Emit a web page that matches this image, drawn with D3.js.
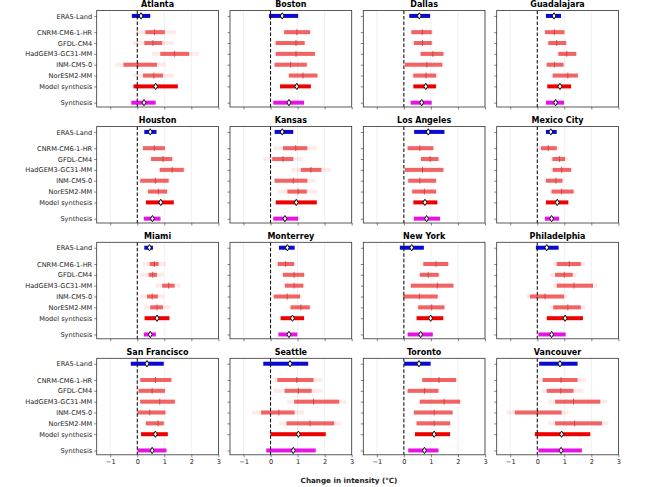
<!DOCTYPE html>
<html>
<head>
<meta charset="utf-8">
<script src="https://cdn.jsdelivr.net/npm/d3@7"></script>
<style>
  body { margin: 0; background: #fff; }
  text { font-family: "DejaVu Sans", sans-serif; }
</style>
</head>
<body>
<div id="chart"></div>
<script>
// cities, in panel order
var cities = ["Atlanta", "Boston", "Dallas", "Guadalajara",
  "Houston", "Kansas", "Los Angeles", "Mexico City",
  "Miami", "Monterrey", "New York", "Philadelphia",
  "San Francisco", "Seattle", "Toronto", "Vancouver"];

var rowLabels = ["ERA5-Land", "CNRM-CM6-1-HR", "GFDL-CM4", "HadGEM3-GC31-MM",
  "INM-CM5-0", "NorESM2-MM", "Model synthesis", "Synthesis"];
var rowPos = [8, 6.5, 5.5, 4.5, 3.5, 2.5, 1.5, 0];

var xTicks = [-1, 0, 1, 2, 3];

// observations [lo, best, hi]
var era5 = [[-0.20,0.14,0.48],[-0.06,0.43,1.02],[0.20,0.57,0.97],[0.32,0.62,0.88],
  [0.26,0.48,0.71],[0.15,0.43,0.84],[0.38,0.90,1.50],[0.32,0.50,0.72],
  [0.26,0.45,0.58],[0.31,0.62,0.89],[-0.15,0.29,0.74],[-0.05,0.35,0.79],
  [-0.24,0.36,0.98],[-0.27,0.72,1.39],[0.01,0.56,0.99],[0.07,0.84,1.49]];

// models [faintLo, lo, best, hi, faintHi]
var cnrm = [[-0.07,0.30,0.64,1.02,1.44],[0.45,0.50,0.97,1.46,1.50],[0.22,0.28,0.68,1.03,1.08],[0.25,0.29,0.63,1.00,1.05],
  [0.15,0.21,0.63,1.02,1.08],[0.12,0.46,0.93,1.36,1.71],[0.10,0.14,0.59,1.09,1.13],[-0.02,0.14,0.41,0.72,0.80],
  [0.21,0.46,0.63,0.79,1.08],[0.22,0.27,0.56,0.87,0.92],[0.68,0.72,1.19,1.64,1.68],[0.57,0.72,1.18,1.61,1.77],
  [0.08,0.11,0.67,1.26,1.30],[0.10,0.25,0.97,1.59,1.92],[0.64,0.68,1.30,1.93,1.97],[0.04,0.20,0.88,1.49,1.81]];
var gfdl = [[-0.16,0.26,0.58,0.92,1.35],[0.14,0.19,0.94,1.26,1.30],[0.32,0.37,0.69,1.03,1.08],[0.37,0.41,0.72,1.07,1.11],
  [0.45,0.51,0.95,1.29,1.35],[-0.27,0.06,0.46,0.84,1.18],[0.59,0.63,0.97,1.28,1.32],[0.47,0.56,0.82,1.03,1.15],
  [0.11,0.42,0.57,0.73,0.98],[0.41,0.46,0.87,1.24,1.28],[0.55,0.59,0.90,1.29,1.33],[0.47,0.66,1.00,1.31,1.46],
  [0.02,0.05,0.55,1.02,1.06],[0.12,0.52,1.03,1.52,1.92],[0.10,0.14,0.76,1.28,1.32],[0.16,0.35,0.87,1.34,1.71]];
var hadgem = [[0.55,0.85,1.38,1.92,2.28],[0.14,0.19,0.94,1.64,1.69],[0.56,0.62,1.07,1.46,1.52],[0.73,0.78,1.09,1.44,1.49],
  [0.77,0.83,1.29,1.72,1.78],[0.77,1.12,1.49,1.88,2.23],[0.00,0.04,0.69,1.46,1.50],[0.52,0.57,0.90,1.25,1.30],
  [0.67,0.92,1.16,1.38,1.60],[0.48,0.53,0.87,1.21,1.26],[0.22,0.26,1.24,1.83,1.87],[0.59,0.72,1.36,2.06,2.21],
  [0.08,0.11,0.83,1.39,1.43],[0.62,0.87,1.59,2.54,2.79],[0.55,0.59,1.49,2.08,2.12],[0.41,0.66,1.34,2.33,2.58]];
var inm = [[-0.82,-0.51,0.02,0.73,1.04],[0.10,0.15,0.74,1.34,1.39],[-0.02,0.04,0.85,1.42,1.48],[0.30,0.35,0.64,0.97,1.02],
  [0.05,0.11,0.67,1.16,1.22],[0.12,0.15,0.84,1.36,1.65],[0.12,0.16,0.59,1.19,1.23],[0.27,0.32,0.69,0.93,0.98],
  [0.11,0.36,0.55,0.76,1.00],[0.07,0.12,0.62,1.09,1.14],[-0.06,-0.02,0.57,1.25,1.29],[-0.40,-0.27,0.29,0.99,1.12],
  [-0.02,0.01,0.46,1.04,1.08],[-0.68,-0.35,0.31,0.89,1.24],[0.33,0.37,1.12,1.80,1.84],[-1.14,-0.83,0.01,0.90,1.15]];
var noresm = [[-0.14,0.21,0.61,0.95,1.35],[0.63,0.68,1.20,1.73,1.78],[0.29,0.35,0.82,1.19,1.25],[0.52,0.57,1.13,1.50,1.55],
  [0.34,0.40,0.78,1.10,1.16],[0.27,0.62,1.02,1.34,1.73],[0.27,0.31,0.76,1.19,1.23],[0.48,0.53,0.90,1.34,1.39],
  [0.24,0.48,0.73,0.95,1.23],[0.69,0.74,1.12,1.45,1.50],[0.49,0.53,1.03,1.50,1.54],[0.47,0.59,1.13,1.61,1.77],
  [0.29,0.32,0.77,0.98,1.02],[0.31,0.59,1.46,2.35,2.60],[0.43,0.47,1.12,1.71,1.75],[0.41,0.66,1.38,2.39,2.63]];

// syntheses [lo, best, hi]
var modelSynth = [[-0.14,0.68,1.50],[0.35,0.97,1.49],[0.35,0.81,1.19],[0.37,0.84,1.25],
  [0.32,0.87,1.35],[0.19,0.95,1.71],[0.35,0.78,1.24],[0.32,0.74,1.15],
  [0.27,0.73,1.19],[0.37,0.81,1.24],[0.47,0.99,1.46],[0.35,1.03,1.69],
  [0.14,0.67,1.13],[0.00,1.03,2.04],[0.41,1.12,1.71],[-0.09,0.90,1.96]];
var synthesis = [[-0.22,0.25,0.68],[0.10,0.68,1.24],[0.25,0.66,1.03],[0.32,0.68,0.99],
  [0.24,0.56,0.86],[0.10,0.53,1.02],[0.37,0.84,1.34],[0.28,0.53,0.81],
  [0.24,0.48,0.69],[0.29,0.68,0.99],[0.14,0.62,1.07],[0.04,0.53,1.05],
  [0.01,0.55,1.08],[-0.16,0.84,1.67],[0.16,0.76,1.28],[0.04,0.88,1.65]];

var models = [cnrm, gfdl, hadgem, inm, noresm];

var W = 658, H = 487;
var panelW = 121.7, panelH = 96.5;
var colLeft = [96.7, 230, 363.3, 496.7];
var rowTop = [10.5, 126.5, 242.3, 358.3];
var barH = 4;

var svg = d3.select("#chart").append("svg")
  .attr("width", W).attr("height", H);

var x = d3.scaleLinear().domain([-1.5, 3]).range([0, panelW]);
var y = d3.scaleLinear().domain([-0.4, 8.5]).range([panelH, 0]);

function diamond(g, cx, cy) {
  g.append("path")
    .attr("d", "M" + cx + "," + (cy - 3.2) + "L" + (cx + 1.9) + "," + cy +
      "L" + cx + "," + (cy + 3.2) + "L" + (cx - 1.9) + "," + cy + "Z")
    .attr("fill", "#fff").attr("stroke", "#000").attr("stroke-width", 0.9);
}

function bar(g, lo, hi, row, color) {
  g.append("rect")
    .attr("x", x(lo)).attr("y", y(rowPos[row]) - barH / 2)
    .attr("width", x(hi) - x(lo)).attr("height", barH)
    .attr("fill", color);
}

cities.forEach(function(city, i) {
  var col = i % 4, r = Math.floor(i / 4);
  var g = svg.append("g")
    .attr("transform", "translate(" + colLeft[col] + "," + rowTop[r] + ")");

  // grid
  g.selectAll(".grid").data(xTicks).enter().append("line")
    .attr("x1", function(d) { return x(d); }).attr("x2", function(d) { return x(d); })
    .attr("y1", 0).attr("y2", panelH)
    .attr("stroke", "#e6e6e6").attr("stroke-width", 0.6);

  // axes
  var xa = g.append("g").attr("transform", "translate(0," + panelH + ")")
    .call(d3.axisBottom(x).tickValues(xTicks).tickSize(2.5).tickPadding(2)
      .tickFormat(function(d) { return r == 3 ? (d < 0 ? "\u2212" + (-d) : d) : ""; }));
  var ya = g.append("g")
    .call(d3.axisLeft(y).tickValues(rowPos).tickSize(2.5).tickPadding(2)
      .tickFormat(function(d, k) { return col == 0 ? rowLabels[k] : ""; }));
  [xa, ya].forEach(function(a) {
    a.select(".domain").remove();
    a.selectAll("line").attr("stroke", "#333").attr("stroke-width", 0.6);
    a.selectAll("text").attr("font-size", "6.6px").attr("fill", "#222")
      .style("font-family", "DejaVu Sans");
  });

  // models: faint range, main range, best estimate
  models.forEach(function(m, k) {
    var v = m[i];
    bar(g, v[0], v[4], k + 1, "rgba(255,80,80,0.12)");
    bar(g, v[1], v[3], k + 1, "rgba(238,60,60,0.78)");
    g.append("line")
      .attr("x1", x(v[2])).attr("x2", x(v[2]))
      .attr("y1", y(rowPos[k + 1]) - 3).attr("y2", y(rowPos[k + 1]) + 3)
      .attr("stroke", "#c83a3a").attr("stroke-width", 0.8);
  });

  bar(g, era5[i][0], era5[i][2], 0, "#0b0bd0");
  bar(g, modelSynth[i][0], modelSynth[i][2], 6, "#ee0000");
  bar(g, synthesis[i][0], synthesis[i][2], 7, "#e612e6");

  // zero line
  g.append("line")
    .attr("x1", x(0)).attr("x2", x(0)).attr("y1", 0).attr("y2", panelH)
    .attr("stroke", "#000").attr("stroke-width", 1).attr("stroke-dasharray", "3.5,2");

  diamond(g, x(era5[i][1]), y(rowPos[0]));
  diamond(g, x(modelSynth[i][1]), y(rowPos[6]));
  diamond(g, x(synthesis[i][1]), y(rowPos[7]));

  // frame
  g.append("rect").attr("width", panelW).attr("height", panelH)
    .attr("fill", "none").attr("stroke", "#333").attr("stroke-width", 0.8);

  g.append("text")
    .attr("x", panelW / 2).attr("y", -3.5)
    .attr("text-anchor", "middle")
    .attr("font-size", "8px").attr("font-weight", "bold")
    .text(city);
});

svg.append("text")
  .attr("x", 349).attr("y", 482.5)
  .attr("text-anchor", "middle")
  .attr("font-size", "7.2px").attr("font-weight", "bold").attr("fill", "#222")
  .text("Change in intensity (\u00b0C)");
</script>
</body>
</html>
